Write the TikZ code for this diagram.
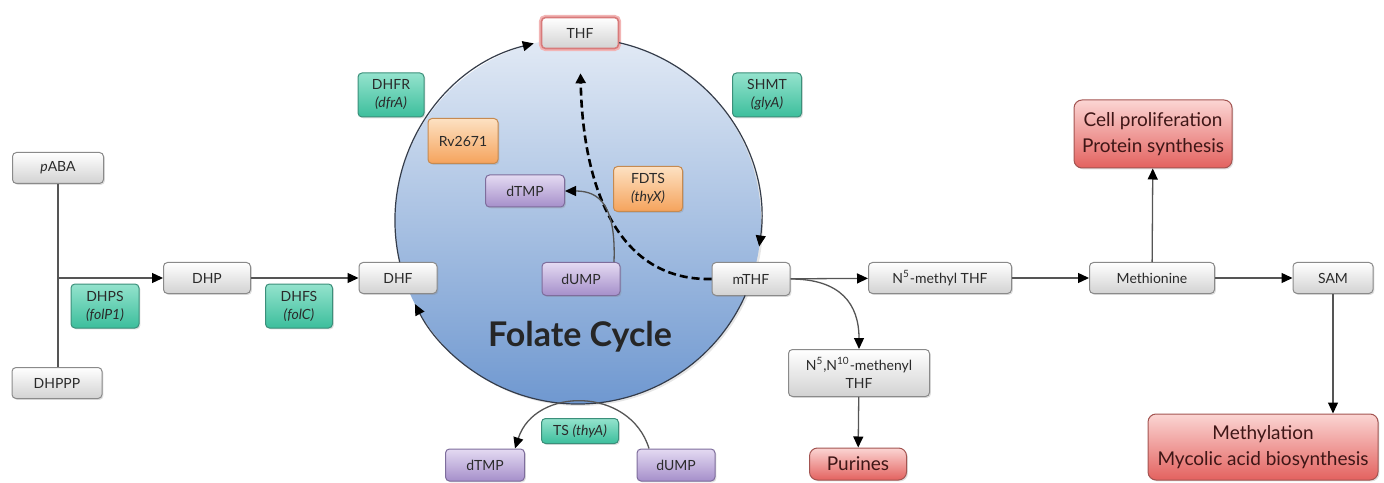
\documentclass[tikz,border=0pt]{standalone}
\usepackage{fontspec}
\setmainfont{Lato}
\usetikzlibrary{arrows.meta,shadows,calc}
\definecolor{grayedge}{HTML}{8A8A8A}
\definecolor{grayb}{HTML}{D2D2D2}
\definecolor{txtgray}{HTML}{2A2A2A}
\definecolor{tealt}{HTML}{94E3CD}
\definecolor{tealb}{HTML}{3CBE9C}
\definecolor{tealedge}{HTML}{3B8F7A}
\definecolor{ort}{HTML}{FDE1C2}
\definecolor{orb}{HTML}{F5A35C}
\definecolor{oredge}{HTML}{C68A50}
\definecolor{purt}{HTML}{E4DAF2}
\definecolor{purb}{HTML}{A58FCA}
\definecolor{puredge}{HTML}{7E6D9C}
\definecolor{redt}{HTML}{FBD5D3}
\definecolor{redb}{HTML}{E3625F}
\definecolor{rededge}{HTML}{A35451}
\definecolor{redtxt}{HTML}{3E1616}
\definecolor{cyctop}{HTML}{E2EAF5}
\definecolor{cycbot}{HTML}{6F98D0}
\definecolor{cycedge}{HTML}{343C4A}
\definecolor{linegray}{HTML}{555555}
\definecolor{glow}{HTML}{F2B5B5}
\definecolor{thfedge}{HTML}{D87A7A}
\begin{document}
\begin{tikzpicture}[x=0.5pt,y=0.5pt,
  base/.style={rounded corners=2pt, inner sep=0pt, align=center,
    font=\fontsize{7}{9}\selectfont,
    drop shadow={shadow xshift=0.7pt, shadow yshift=-0.7pt, opacity=0.25}},
  graybox/.style={base, draw=grayedge, line width=0.5pt, top color=white, bottom color=grayb, text=txtgray},
  thfbox/.style={base, draw=thfedge, line width=0.8pt, top color=white, bottom color=grayb, text=txtgray,
    preaction={draw=glow, line width=2.6pt}},
  tealbox/.style={base, draw=tealedge, line width=0.5pt, top color=tealt, bottom color=tealb, text=txtgray},
  orbox/.style={base, draw=oredge, line width=0.5pt, top color=ort, bottom color=orb, text=txtgray},
  purbox/.style={base, draw=puredge, line width=0.5pt, top color=purt, bottom color=purb, text=txtgray},
  redbox/.style={base, draw=rededge, line width=0.5pt, top color=redt, bottom color=redb, text=redtxt,
    rounded corners=4pt, font=\fontsize{9.5}{13}\selectfont},
  ln/.style={draw=linegray, line width=0.65pt},
  arr/.style={ln, -{Triangle[length=5.5pt,width=5pt,color=black]}},
  cycarr/.style={draw=cycedge, line width=0.6pt, -{Triangle[length=5.5pt,width=5pt,color=black]}},
  dasharr/.style={draw=black, line width=1.3pt, dash pattern=on 4pt off 2pt, -{Triangle[length=5pt,width=5pt]}},
]
\useasboundingbox (0,0) rectangle (1384,482);

% folate cycle circle
\node[circle, minimum size=183pt, inner sep=0pt, outer sep=0pt, top color=cyctop, bottom color=cycbot,
  drop shadow={shadow xshift=1pt, shadow yshift=-1pt, opacity=0.2}] (cyc) at (578,261) {};
\node[font=\fontsize{17}{20}\selectfont\bfseries, text=black!85] (fc) at (580,145) {Folate Cycle};

% nodes
\node[graybox, minimum width=45.5pt, minimum height=15.5pt] (pABA) at (58,314) {\textit{p}ABA};
\node[graybox, minimum width=45pt, minimum height=15.5pt] (DHPPP) at (57,99) {DHPPP};
\node[graybox, minimum width=43.5pt, minimum height=15.5pt] (DHP) at (207,204) {DHP};
\node[tealbox, minimum width=34pt, minimum height=22pt] (DHPS) at (105,176) {DHPS\\\textit{(folP1)}};
\node[tealbox, minimum width=33.5pt, minimum height=22pt] (DHFS) at (299,176) {DHFS\\\textit{(folC)}};
\node[graybox, minimum width=39pt, minimum height=15.5pt] (DHF) at (398,204) {DHF};
\node[thfbox, minimum width=38.5pt, minimum height=15.5pt] (THF) at (580,449) {THF};
\node[tealbox, minimum width=33pt, minimum height=22pt] (DHFR) at (391,387) {DHFR\\\textit{(dfrA)}};
\node[tealbox, minimum width=34.5pt, minimum height=22pt] (SHMT) at (767,387) {SHMT\\\textit{(glyA)}};
\node[orbox, minimum width=35pt, minimum height=22.5pt] (Rv) at (463,341) {Rv2671};
\node[purbox, minimum width=39.5pt, minimum height=16pt] (dTMPa) at (525,291) {dTMP};
\node[orbox, minimum width=34.5pt, minimum height=22.5pt] (FDTS) at (648,293) {FDTS\\\textit{(thyX)}};
\node[purbox, minimum width=39pt, minimum height=16.5pt] (dUMPa) at (581,203) {dUMP};
\node[graybox, minimum width=39pt, minimum height=16.5pt] (mTHF) at (751,203) {mTHF};
\node[graybox, minimum width=71.5pt, minimum height=15.5pt] (N5) at (940,204) {N\textsuperscript{5}-methyl THF};
\node[graybox, minimum width=62.5pt, minimum height=15.5pt] (Met) at (1152,204) {Methionine};
\node[graybox, minimum width=40pt, minimum height=15.5pt] (SAM) at (1333,204) {SAM};
\node[redbox, minimum width=79pt, minimum height=34pt] (Cell) at (1153,348) {Cell proliferation\\Protein synthesis};
\node[redbox, minimum width=115pt, minimum height=33pt] (Mety) at (1263,35) {Methylation\\Mycolic acid biosynthesis};
\node[graybox, minimum width=70.5pt, minimum height=23.5pt] (N510) at (859,109) {N\textsuperscript{5},N\textsuperscript{10}-methenyl\\THF};
\node[redbox, minimum width=48.5pt, minimum height=16pt] (Pur) at (858,18) {Purines};
\node[tealbox, minimum width=38.5pt, minimum height=12.5pt] (TS) at (580,51) {TS \textit{(thyA)}};
\node[purbox, minimum width=39.5pt, minimum height=16pt] (dTMPb) at (485,17) {dTMP};
\node[purbox, minimum width=39pt, minimum height=16pt] (dUMPb) at (676,17) {dUMP};

% circle arcs
\draw[cycarr] (cyc.193) arc[start angle=193, end angle=104, radius=91.5pt];
\draw[cycarr] (cyc.77) arc[start angle=77, end angle=-8, radius=91.5pt];
\draw[cycarr] (cyc.-24) arc[start angle=-24, end angle=-153, radius=91.5pt];

% connectors
\coordinate (j) at (pABA.south |- DHP.west);
\draw[ln] (pABA.south) -- (pABA.south |- DHPPP.north);
\draw[arr] (j) -- (DHP.west);
\draw[arr] (DHP) -- (DHF);
\draw[arr] (mTHF) -- (N5);
\draw[arr] (N5) -- (Met);
\draw[arr] (Met) -- (SAM);
\draw[arr] (Met) -- (Cell);
\draw[arr] (SAM.south) -- (SAM.south |- Mety.north);
\draw[arr] (mTHF.east) .. controls +(50,0) and +(0,45) .. (N510.north);
\draw[arr] (N510) -- (Pur);
\draw[dasharr, shorten >=12pt] (mTHF.west) .. controls (620,201) and (583,290) .. (THF.south);
\draw[arr] ($(dUMPa.north)+(33,0)$) .. controls +(2,56) and +(35,0) .. (dTMPa.east);
\draw[arr] ($(dUMPb.north)+(-27,0)$) .. controls +(-19,62) and +(20,62) .. ($(dTMPb.north)+(30,0)$);
\end{tikzpicture}
\end{document}
